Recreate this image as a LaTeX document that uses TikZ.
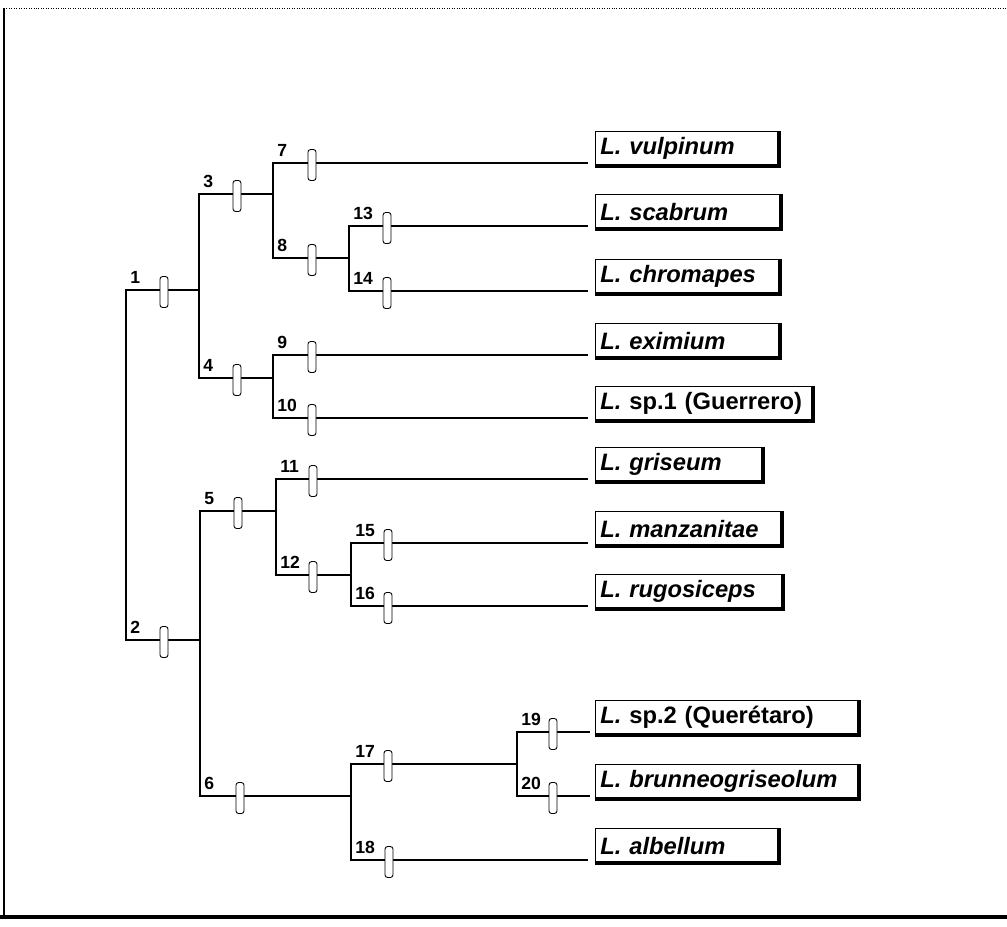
\documentclass[tikz,border=0pt]{standalone}
\usepackage{fontspec}
\setmainfont{Liberation Sans}
\usetikzlibrary{calc}

\tikzset{
  rama/.style={line width=1.6pt},
  marca/.style={draw, fill=white, line width=0.5pt, rounded corners=1.5pt, minimum width=0.16cm, minimum height=0.62cm, inner sep=0pt},
  num/.style={font=\fontsize{10}{12}\selectfont\bfseries, anchor=south west, inner sep=0pt},
  especie/.style={draw, line width=0.4pt, anchor=south west, align=left, inner sep=0.1cm, minimum height=0.68cm, font=\fontsize{13.5}{15}\selectfont\bfseries},
  sombra/.style={line width=2.2pt}
}

\begin{document}
\begin{tikzpicture}[x=0.02cm, y=-0.02cm]
        \useasboundingbox (0,0) rectangle (1007,926);
        % marco
        \draw[line width=0.4pt, densely dotted] (4,8) -- (1007,8);
        \draw[line width=0.8pt] (4,8) -- (4,916);
        \draw[line width=1.8pt] (0,917) -- (1007,917);

        % nodos internos
        \coordinate (raiz) at (126,465);
        \coordinate (n1) at (199,290);
        \coordinate (n2) at (200,640);
        \coordinate (n3) at (273,194);
        \coordinate (n4) at (273,378);
        \coordinate (n5) at (276,511);
        \coordinate (n6) at (351,796);
        \coordinate (n8) at (349,258);
        \coordinate (n12) at (351,575);
        \coordinate (n17) at (517,764);
        % extremos de las ramas terminales
        \coordinate (t7) at (588,163);
        \coordinate (t13) at (588,226);
        \coordinate (t14) at (588,291);
        \coordinate (t9) at (588,355);
        \coordinate (t10) at (588,418);
        \coordinate (t11) at (588,479);
        \coordinate (t15) at (588,543);
        \coordinate (t16) at (588,606);
        \coordinate (t19) at (590,732);
        \coordinate (t20) at (590,796);
        \coordinate (t18) at (588,860);

        % ramas
        \draw[rama] (raiz) |- (n1);
        \draw[rama] (raiz) |- (n2);
        \draw[rama] (n1) |- (n3);
        \draw[rama] (n1) |- (n4);
        \draw[rama] (n3) |- (t7);
        \draw[rama] (n3) |- (n8);
        \draw[rama] (n8) |- (t13);
        \draw[rama] (n8) |- (t14);
        \draw[rama] (n4) |- (t9);
        \draw[rama] (n4) |- (t10);
        \draw[rama] (n2) |- (n5);
        \draw[rama] (n2) |- (n6);
        \draw[rama] (n5) |- (t11);
        \draw[rama] (n5) |- (n12);
        \draw[rama] (n12) |- (t15);
        \draw[rama] (n12) |- (t16);
        \draw[rama] (n6) |- (n17);
        \draw[rama] (n6) |- (t18);
        \draw[rama] (n17) |- (t19);
        \draw[rama] (n17) |- (t20);

        % marcas y numeros
        \node[marca] (m1) at (164,292) {};  \node[num] (e1) at (130,284) {1};
        \node[marca] (m2) at (164,642) {};  \node[num] (e2) at (130,634) {2};
        \node[marca] (m3) at (237,196) {};  \node[num] (e3) at (203,188) {3};
        \node[marca] (m4) at (237,380) {};  \node[num] (e4) at (203,372) {4};
        \node[marca] (m5) at (238,513) {};  \node[num] (e5) at (204,505) {5};
        \node[marca] (m6) at (240,798) {};  \node[num] (e6) at (204,790) {6};
        \node[marca] (m7) at (312,165) {};  \node[num] (e7) at (277,157) {7};
        \node[marca] (m8) at (312,260) {};  \node[num] (e8) at (277,252) {8};
        \node[marca] (m9) at (312,357) {};  \node[num] (e9) at (277,349) {9};
        \node[marca] (m10) at (312,420) {}; \node[num] (e10) at (277,412) {10};
        \node[marca] (m11) at (313,481) {}; \node[num] (e11) at (280,473) {11};
        \node[marca] (m12) at (313,577) {}; \node[num] (e12) at (280,569) {12};
        \node[marca] (m13) at (387,228) {}; \node[num] (e13) at (353,220) {13};
        \node[marca] (m14) at (387,293) {}; \node[num] (e14) at (353,285) {14};
        \node[marca] (m15) at (388,545) {}; \node[num] (e15) at (355,537) {15};
        \node[marca] (m16) at (388,608) {}; \node[num] (e16) at (355,600) {16};
        \node[marca] (m17) at (388,766) {}; \node[num] (e17) at (355,758) {17};
        \node[marca] (m18) at (389,862) {}; \node[num] (e18) at (355,854) {18};
        \node[marca] (m19) at (553,734) {}; \node[num] (e19) at (521,726) {19};
        \node[marca] (m20) at (553,798) {}; \node[num] (e20) at (521,790) {20};

        % especies
        \node[especie, text width=3.46cm] (vulpinum) at ($(t7)+(7,3)$) {\itshape L. vulpinum};
        \node[especie, text width=3.50cm] (scabrum) at ($(t13)+(7,3)$) {\itshape L. scabrum};
        \node[especie, text width=3.48cm] (chromapes) at ($(t14)+(7,3)$) {\itshape L. chromapes};
        \node[especie, text width=3.48cm] (eximium) at ($(t9)+(7,3)$) {\itshape L. eximium};
        \node[especie, text width=4.14cm] (sp1) at ($(t10)+(7,3)$) {\textit{L.} sp.1 (Guerrero)};
        \node[especie, text width=3.14cm] (griseum) at ($(t11)+(7,3)$) {\itshape L. griseum};
        \node[especie, text width=3.52cm] (manzanitae) at ($(t15)+(7,3)$) {\itshape L. manzanitae};
        \node[especie, text width=3.54cm] (rugosiceps) at ($(t16)+(7,3)$) {\itshape L. rugosiceps};
        \node[especie, text width=5.06cm] (sp2) at ($(t19)+(5,3)$) {\textit{L.} sp.2 (Querétaro)};
        \node[especie, text width=5.06cm] (brunneo) at ($(t20)+(5,3)$) {\itshape L. brunneogriseolum};
        \node[especie, text width=3.46cm] (albellum) at ($(t18)+(7,3)$) {\itshape L. albellum};
        \foreach \c in {vulpinum,scabrum,chromapes,eximium,sp1,griseum,manzanitae,rugosiceps,sp2,brunneo,albellum}
          \draw[sombra] (\c.south west) -| (\c.north east);
      \end{tikzpicture}
\end{document}
